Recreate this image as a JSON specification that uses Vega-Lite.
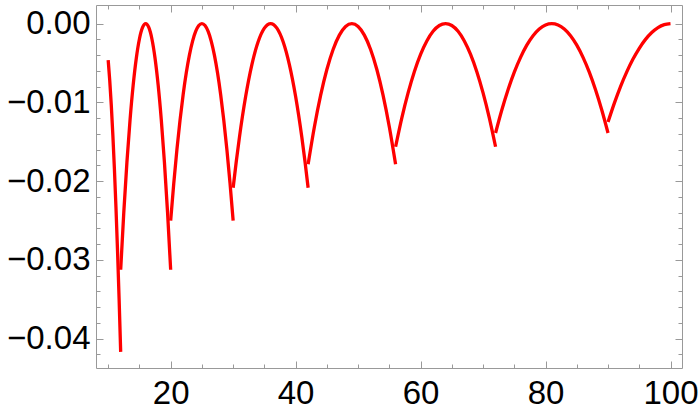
{
  "$schema": "https://vega.github.io/schema/vega-lite/v6.json",
  "width": 586,
  "height": 363,
  "autosize": {"type": "none"},
  "padding": {"left": 96, "top": 5, "right": 18, "bottom": 46},
  "background": "white",
  "config": {
    "view": {"stroke": null},
    "axis": {
      "grid": false,
      "domainColor": "#999999",
      "domainWidth": 1,
      "tickColor": "#999999",
      "tickWidth": 1,
      "labelFont": "Liberation Sans",
      "labelFontSize": 33,
      "labelColor": "#000000",
      "title": null
    }
  },
  "data": {
    "values": [
      {"s":3,"x":10,"y":-0.00463},{"s":3,"x":10.25,"y":-0.00723},{"s":3,"x":10.5,"y":-0.01042},{"s":3,"x":10.75,"y":-0.01418},{"s":3,"x":11,"y":-0.01852},{"s":3,"x":11.25,"y":-0.02344},{"s":3,"x":11.5,"y":-0.02894},{"s":3,"x":11.75,"y":-0.03501},{"s":3,"x":12,"y":-0.04167},
      {"s":4,"x":12,"y":-0.03125},{"s":4,"x":12.5,"y":-0.02393},{"s":4,"x":13,"y":-0.01758},{"s":4,"x":13.5,"y":-0.01221},{"s":4,"x":14,"y":-0.00781},{"s":4,"x":14.5,"y":-0.00439},{"s":4,"x":15,"y":-0.00195},{"s":4,"x":15.5,"y":-0.00049},{"s":4,"x":16,"y":0},{"s":4,"x":16.5,"y":-0.00049},{"s":4,"x":17,"y":-0.00195},{"s":4,"x":17.5,"y":-0.00439},{"s":4,"x":18,"y":-0.00781},{"s":4,"x":18.5,"y":-0.01221},{"s":4,"x":19,"y":-0.01758},{"s":4,"x":19.5,"y":-0.02393},{"s":4,"x":20,"y":-0.03125},
      {"s":5,"x":20,"y":-0.025},{"s":5,"x":20.5,"y":-0.02025},{"s":5,"x":21,"y":-0.016},{"s":5,"x":21.5,"y":-0.01225},{"s":5,"x":22,"y":-0.009},{"s":5,"x":22.5,"y":-0.00625},{"s":5,"x":23,"y":-0.004},{"s":5,"x":23.5,"y":-0.00225},{"s":5,"x":24,"y":-0.001},{"s":5,"x":24.5,"y":-0.00025},{"s":5,"x":25,"y":0},{"s":5,"x":25.5,"y":-0.00025},{"s":5,"x":26,"y":-0.001},{"s":5,"x":26.5,"y":-0.00225},{"s":5,"x":27,"y":-0.004},{"s":5,"x":27.5,"y":-0.00625},{"s":5,"x":28,"y":-0.009},{"s":5,"x":28.5,"y":-0.01225},{"s":5,"x":29,"y":-0.016},{"s":5,"x":29.5,"y":-0.02025},{"s":5,"x":30,"y":-0.025},
      {"s":6,"x":30,"y":-0.02083},{"s":6,"x":30.5,"y":-0.01751},{"s":6,"x":31,"y":-0.01447},{"s":6,"x":32,"y":-0.00926},{"s":6,"x":33,"y":-0.00521},{"s":6,"x":34,"y":-0.00231},{"s":6,"x":35,"y":-0.00058},{"s":6,"x":36,"y":0},{"s":6,"x":37,"y":-0.00058},{"s":6,"x":38,"y":-0.00231},{"s":6,"x":39,"y":-0.00521},{"s":6,"x":40,"y":-0.00926},{"s":6,"x":41,"y":-0.01447},{"s":6,"x":41.5,"y":-0.01751},{"s":6,"x":42,"y":-0.02083},
      {"s":7,"x":42,"y":-0.01786},{"s":7,"x":43,"y":-0.01312},{"s":7,"x":44,"y":-0.00911},{"s":7,"x":45,"y":-0.00583},{"s":7,"x":46,"y":-0.00328},{"s":7,"x":47,"y":-0.00146},{"s":7,"x":48,"y":-0.00036},{"s":7,"x":49,"y":0},{"s":7,"x":50,"y":-0.00036},{"s":7,"x":51,"y":-0.00146},{"s":7,"x":52,"y":-0.00328},{"s":7,"x":53,"y":-0.00583},{"s":7,"x":54,"y":-0.00911},{"s":7,"x":55,"y":-0.01312},{"s":7,"x":56,"y":-0.01786},
      {"s":8,"x":56,"y":-0.01563},{"s":8,"x":57,"y":-0.01196},{"s":8,"x":58,"y":-0.00879},{"s":8,"x":59,"y":-0.0061},{"s":8,"x":60,"y":-0.00391},{"s":8,"x":61,"y":-0.0022},{"s":8,"x":62,"y":-0.00098},{"s":8,"x":63,"y":-0.00024},{"s":8,"x":64,"y":0},{"s":8,"x":65,"y":-0.00024},{"s":8,"x":66,"y":-0.00098},{"s":8,"x":67,"y":-0.0022},{"s":8,"x":68,"y":-0.00391},{"s":8,"x":69,"y":-0.0061},{"s":8,"x":70,"y":-0.00879},{"s":8,"x":71,"y":-0.01196},{"s":8,"x":72,"y":-0.01563},
      {"s":9,"x":72,"y":-0.01389},{"s":9,"x":73,"y":-0.01097},{"s":9,"x":74,"y":-0.0084},{"s":9,"x":75,"y":-0.00617},{"s":9,"x":76,"y":-0.00429},{"s":9,"x":77,"y":-0.00274},{"s":9,"x":78,"y":-0.00154},{"s":9,"x":79,"y":-0.00069},{"s":9,"x":80,"y":-0.00017},{"s":9,"x":81,"y":0},{"s":9,"x":82,"y":-0.00017},{"s":9,"x":83,"y":-0.00069},{"s":9,"x":84,"y":-0.00154},{"s":9,"x":85,"y":-0.00274},{"s":9,"x":86,"y":-0.00429},{"s":9,"x":87,"y":-0.00617},{"s":9,"x":88,"y":-0.0084},{"s":9,"x":89,"y":-0.01097},{"s":9,"x":90,"y":-0.01389},
      {"s":10,"x":90,"y":-0.0125},{"s":10,"x":91,"y":-0.01013},{"s":10,"x":92,"y":-0.008},{"s":10,"x":93,"y":-0.00613},{"s":10,"x":94,"y":-0.0045},{"s":10,"x":95,"y":-0.00313},{"s":10,"x":96,"y":-0.002},{"s":10,"x":97,"y":-0.00113},{"s":10,"x":98,"y":-0.0005},{"s":10,"x":99,"y":-0.00013},{"s":10,"x":100,"y":0}
    ]
  },
  "resolve": {"axis": {"x": "independent", "y": "independent"}},
  "layer": [
    {
      "mark": {"type": "line", "color": "#ff0000", "strokeWidth": 3.3, "interpolate": "monotone", "strokeJoin": "round", "clip": true},
      "encoding": {
        "x": {
          "field": "x", "type": "quantitative",
          "scale": {"domain": [8.05, 101.84], "nice": false, "zero": false},
          "axis": {
            "orient": "bottom",
            "values": [10,15,20,25,30,35,40,45,50,55,60,65,70,75,80,85,90,95,100],
            "tickSize": {"condition": {"test": "datum.value % 20 === 0", "value": -7}, "value": -4},
            "labelExpr": "datum.value % 20 === 0 ? datum.label : ''",
            "labelPadding": 16,
            "labelBaseline": "top",
            "labelFlush": false,
            "labelOverlap": false
          }
        },
        "y": {
          "field": "y", "type": "quantitative",
          "scale": {"domain": [-0.04372, 0.002362], "nice": false, "zero": false},
          "axis": {
            "orient": "left",
            "values": [0,-0.002,-0.004,-0.006,-0.008,-0.01,-0.012,-0.014,-0.016,-0.018,-0.02,-0.022,-0.024,-0.026,-0.028,-0.03,-0.032,-0.034,-0.036,-0.038,-0.04,-0.042],
            "tickSize": {"condition": {"test": "abs(datum.value*100 - round(datum.value*100)) < 1e-6", "value": -7}, "value": -4},
            "labelExpr": "abs(datum.value*100 - round(datum.value*100)) < 1e-6 ? (datum.value < -1e-9 ? '\u2212' : '') + format(abs(datum.value), '.2f') : ''",
            "labelPadding": 13,
            "labelFlush": false,
            "labelOverlap": false
          }
        },
        "detail": {"field": "s", "type": "nominal"}
      }
    },
    {
      "mark": {"type": "line", "opacity": 0, "clip": true},
      "encoding": {
        "x": {
          "field": "x", "type": "quantitative",
          "scale": {"domain": [8.05, 101.84], "nice": false, "zero": false},
          "axis": {
            "orient": "top",
            "values": [10,15,20,25,30,35,40,45,50,55,60,65,70,75,80,85,90,95,100],
            "tickSize": {"condition": {"test": "datum.value % 20 === 0", "value": -7}, "value": -4},
            "labels": false
          }
        },
        "y": {
          "field": "y", "type": "quantitative",
          "scale": {"domain": [-0.04372, 0.002362], "nice": false, "zero": false},
          "axis": {
            "orient": "right",
            "values": [0,-0.002,-0.004,-0.006,-0.008,-0.01,-0.012,-0.014,-0.016,-0.018,-0.02,-0.022,-0.024,-0.026,-0.028,-0.03,-0.032,-0.034,-0.036,-0.038,-0.04,-0.042],
            "tickSize": {"condition": {"test": "abs(datum.value*100 - round(datum.value*100)) < 1e-6", "value": -7}, "value": -4},
            "labels": false
          }
        },
        "detail": {"field": "s", "type": "nominal"}
      }
    }
  ]
}
